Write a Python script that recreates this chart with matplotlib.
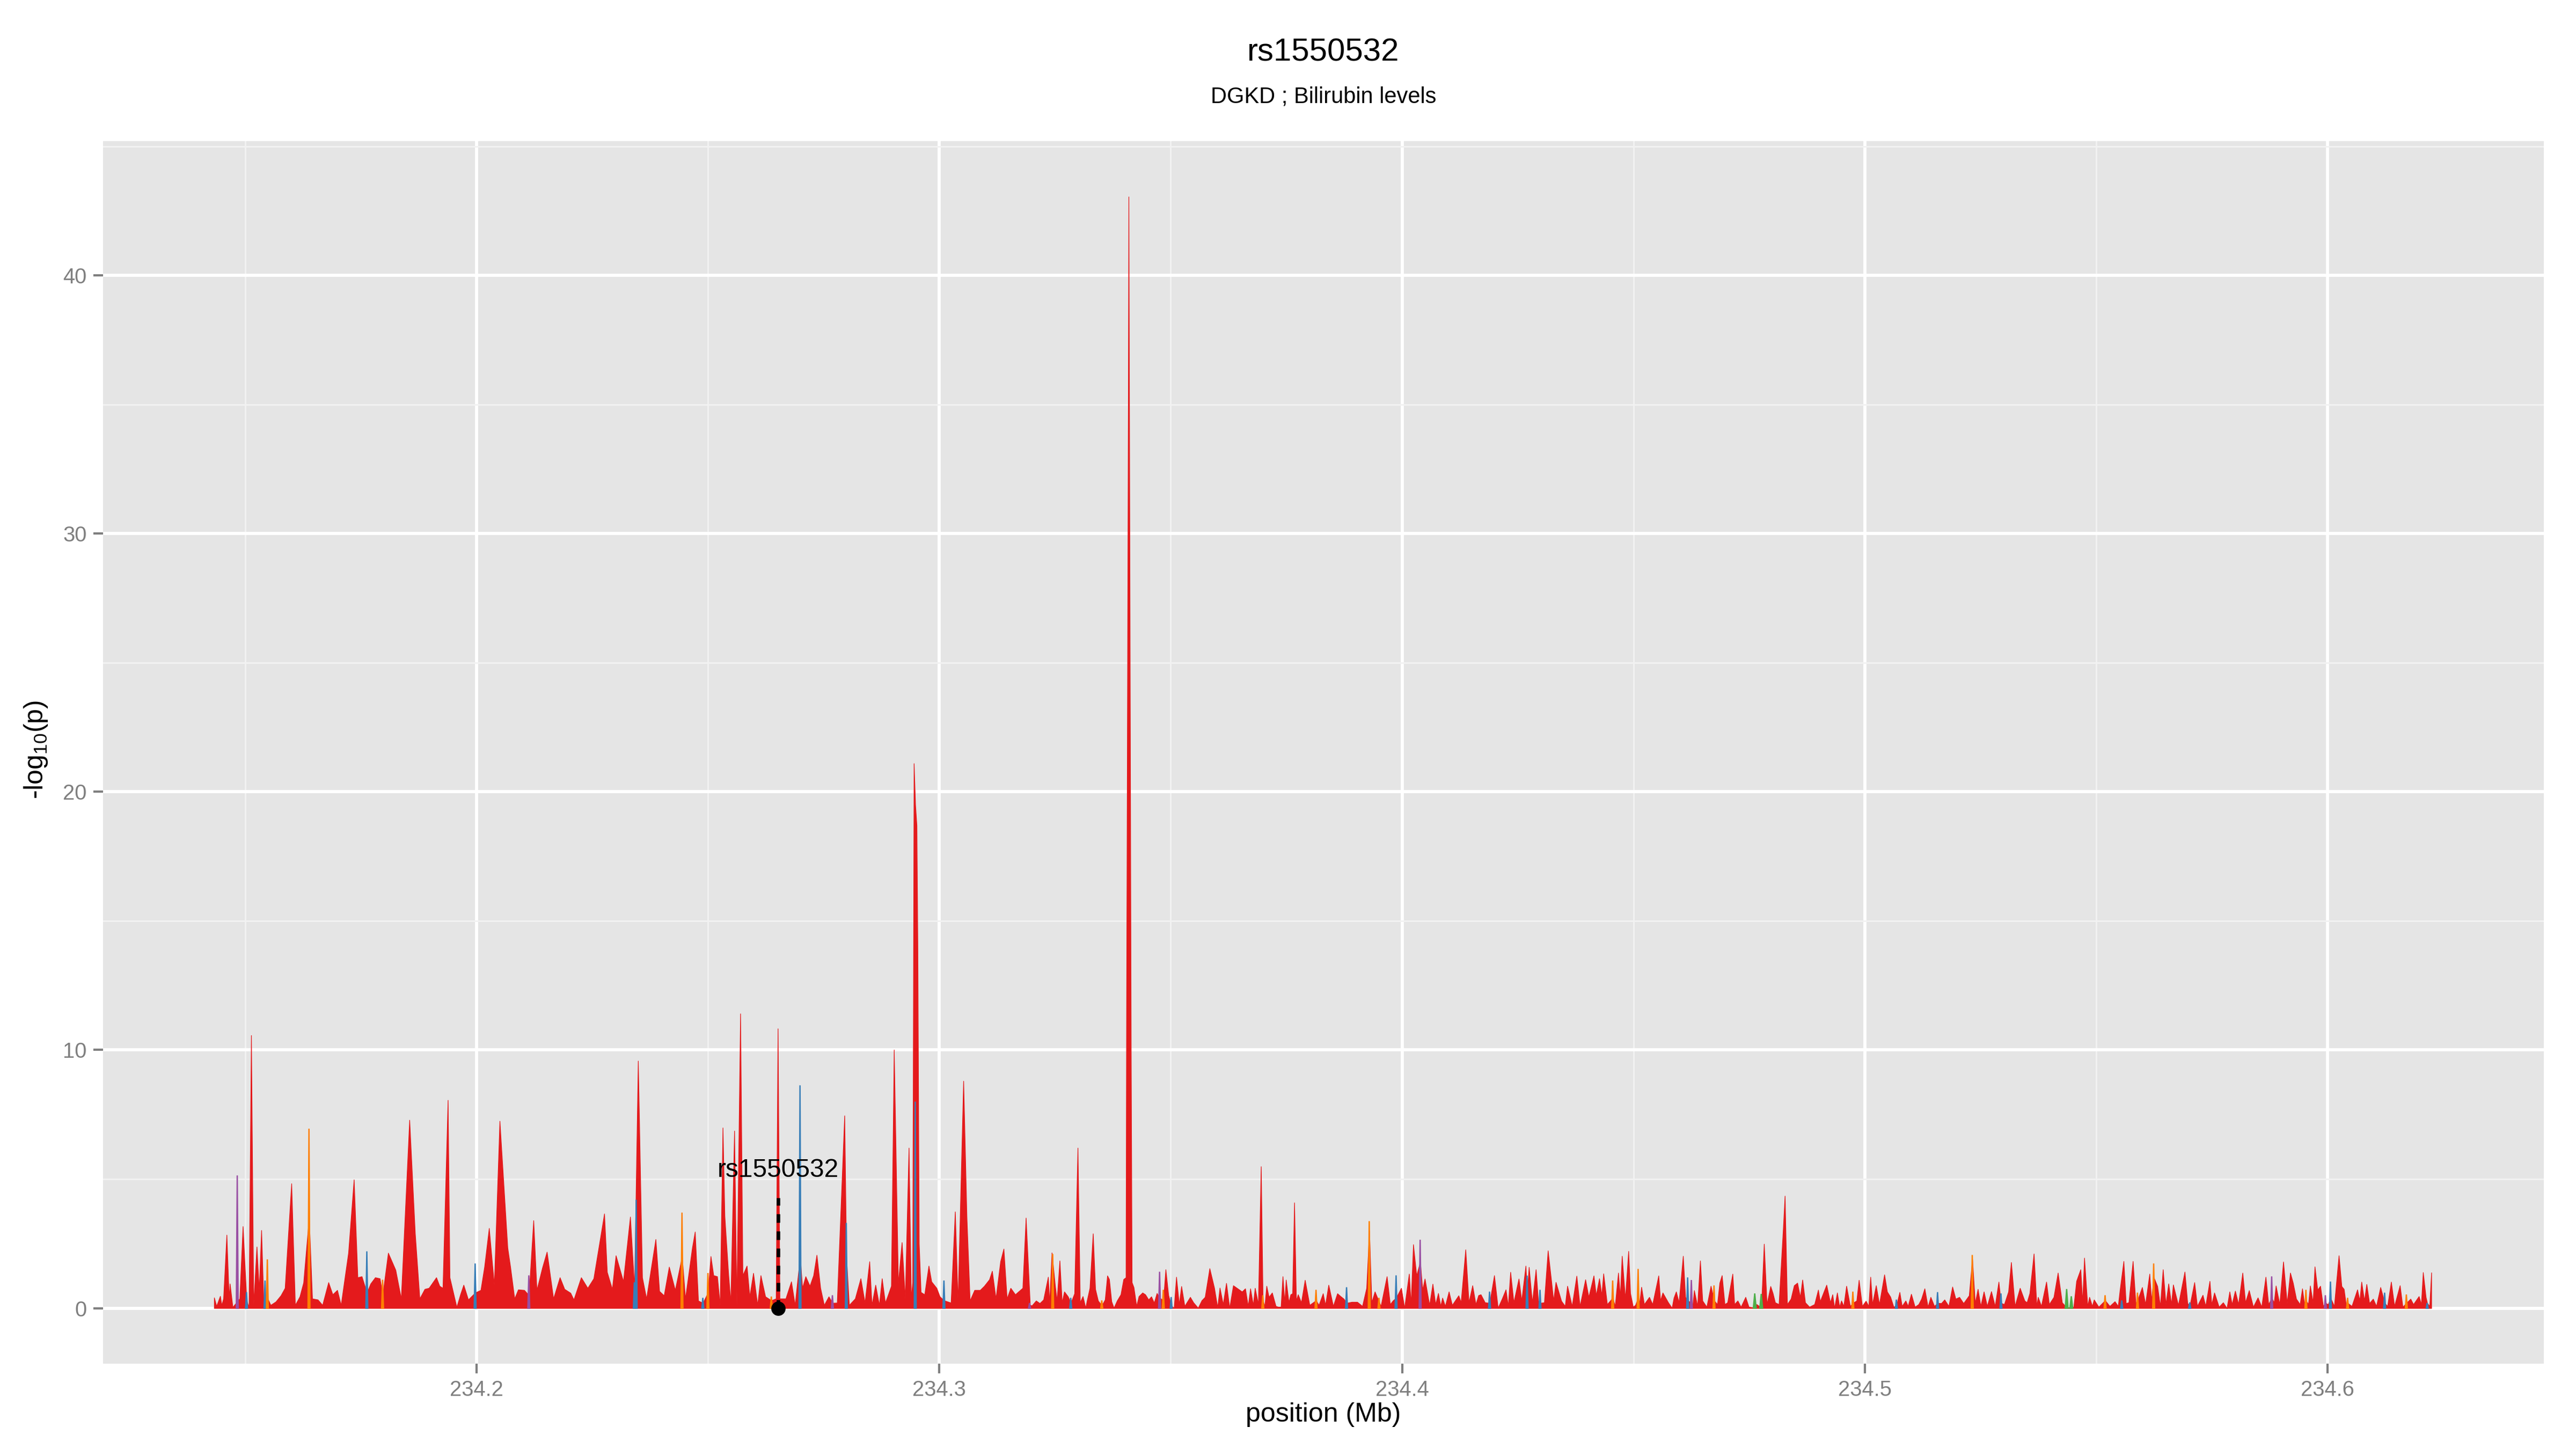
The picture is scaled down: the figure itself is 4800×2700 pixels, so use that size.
import matplotlib
matplotlib.use("Agg")
import matplotlib.pyplot as plt
import numpy as np

plt.rcParams['font.family'] = ['Liberation Sans', 'DejaVu Sans']
plt.rcParams['mathtext.default'] = 'regular'

# --- data (position in Mb, -log10 p) ---
red_pos = [
    234.1433, 234.1438, 234.1446, 234.1449, 234.1453, 234.1460, 234.1465, 234.1467, 234.1473, 234.1488,
    234.1495, 234.1503, 234.1508, 234.1513, 234.1518, 234.1525, 234.1530, 234.1535, 234.1540, 234.1548,
    234.1555, 234.1566, 234.1577, 234.1586, 234.1600, 234.1608, 234.1618, 234.1626, 234.1638, 234.1645,
    234.1657, 234.1667, 234.1680, 234.1689, 234.1699, 234.1707, 234.1723, 234.1735, 234.1743, 234.1752,
    234.1763, 234.1771, 234.1781, 234.1791, 234.1797, 234.1809, 234.1825, 234.1837, 234.1855, 234.1867,
    234.1877, 234.1888, 234.1897, 234.1913, 234.1920, 234.1927, 234.1938, 234.1942, 234.1957, 234.1965,
    234.1972, 234.1982, 234.1997, 234.2009, 234.2017, 234.2027, 234.2038, 234.2050, 234.2067, 234.2073,
    234.2082, 234.2090, 234.2103, 234.2113, 234.2123, 234.2130, 234.2142, 234.2152, 234.2166, 234.2180,
    234.2190, 234.2203, 234.2210, 234.2226, 234.2240, 234.2253, 234.2270, 234.2276, 234.2282, 234.2293,
    234.2301, 234.2317, 234.2332, 234.2341, 234.2349, 234.2358, 234.2367, 234.2387, 234.2395, 234.2405,
    234.2416, 234.2429, 234.2444, 234.2451, 234.2466, 234.2472, 234.2479, 234.2489, 234.2500, 234.2506,
    234.2512, 234.2520, 234.2526, 234.2532, 234.2536, 234.2544, 234.2549, 234.2557, 234.2562, 234.2570,
    234.2575, 234.2584, 234.2590, 234.2598, 234.2607, 234.2614, 234.2624, 234.2637, 234.2647, 234.2651,
    234.2655, 234.2668, 234.2680, 234.2688, 234.2699, 234.2704, 234.2711, 234.2720, 234.2728, 234.2735,
    234.2743, 234.2751, 234.2761, 234.2769, 234.2779, 234.2795, 234.2799, 234.2805, 234.2818, 234.2830,
    234.2839, 234.2849, 234.2854, 234.2862, 234.2870, 234.2876, 234.2883, 234.2888, 234.2896, 234.2902,
    234.2911, 234.2919, 234.2926, 234.2934, 234.2939, 234.2942, 234.2945, 234.2948, 234.2951, 234.2953,
    234.2956, 234.2960, 234.2968, 234.2977, 234.2983, 234.2994, 234.3001, 234.3010, 234.3025, 234.3034,
    234.3040, 234.3052, 234.3059, 234.3066, 234.3076, 234.3088, 234.3097, 234.3108, 234.3114, 234.3122,
    234.3132, 234.3139, 234.3146, 234.3154, 234.3164, 234.3180, 234.3187, 234.3196, 234.3200, 234.3209,
    234.3217, 234.3225, 234.3235, 234.3238, 234.3243, 234.3250, 234.3254, 234.3260, 234.3265, 234.3270,
    234.3278, 234.3284, 234.3292, 234.3299, 234.3304, 234.3310, 234.3316, 234.3319, 234.3325, 234.3332,
    234.3337, 234.3343, 234.3351, 234.3358, 234.3363, 234.3367, 234.3372, 234.3377, 234.3384, 234.3392,
    234.3398, 234.3403, 234.3404, 234.3408, 234.3409, 234.3411, 234.3414, 234.3416, 234.3420, 234.3426,
    234.3431, 234.3439, 234.3445, 234.3452, 234.3458, 234.3464, 234.3470, 234.3476, 234.3484, 234.3489,
    234.3495, 234.3501, 234.3507, 234.3512, 234.3518, 234.3523, 234.3530, 234.3542, 234.3549, 234.3559,
    234.3567, 234.3574, 234.3584, 234.3594, 234.3601, 234.3606, 234.3613, 234.3620, 234.3627, 234.3635,
    234.3654, 234.3661, 234.3667, 234.3672, 234.3678, 234.3682, 234.3689, 234.3695, 234.3699, 234.3703,
    234.3707, 234.3712, 234.3719, 234.3727, 234.3732, 234.3738, 234.3742, 234.3746, 234.3749, 234.3755,
    234.3759, 234.3763, 234.3767, 234.3771, 234.3775, 234.3782, 234.3790, 234.3800, 234.3814, 234.3820,
    234.3829, 234.3834, 234.3841, 234.3851, 234.3860, 234.3867, 234.3874, 234.3880, 234.3891, 234.3903,
    234.3914, 234.3923, 234.3929, 234.3934, 234.3941, 234.3954, 234.3967, 234.3974, 234.3980, 234.3987,
    234.3998, 234.4005, 234.4015, 234.4019, 234.4024, 234.4031, 234.4039, 234.4044, 234.4049, 234.4059,
    234.4066, 234.4072, 234.4078, 234.4083, 234.4087, 234.4093, 234.4101, 234.4108, 234.4122, 234.4127,
    234.4137, 234.4144, 234.4152, 234.4159, 234.4165, 234.4170, 234.4179, 234.4189, 234.4199, 234.4207,
    234.4216, 234.4224, 234.4229, 234.4234, 234.4241, 234.4252, 234.4258, 234.4267, 234.4270, 234.4274,
    234.4281, 234.4289, 234.4294, 234.4298, 234.4307, 234.4315, 234.4322, 234.4327, 234.4332, 234.4344,
    234.4352, 234.4357, 234.4367, 234.4377, 234.4384, 234.4396, 234.4403, 234.4414, 234.4419, 234.4426,
    234.4431, 234.4435, 234.4443, 234.4455, 234.4460, 234.4467, 234.4471, 234.4475, 234.4482, 234.4489,
    234.4493, 234.4499, 234.4504, 234.4510, 234.4513, 234.4517, 234.4523, 234.4534, 234.4541, 234.4554,
    234.4558, 234.4563, 234.4575, 234.4583, 234.4587, 234.4592, 234.4598, 234.4607, 234.4612, 234.4617,
    234.4625, 234.4628, 234.4631, 234.4638, 234.4644, 234.4649, 234.4658, 234.4667, 234.4674, 234.4681,
    234.4686, 234.4691, 234.4697, 234.4703, 234.4714, 234.4718, 234.4725, 234.4732, 234.4742, 234.4749,
    234.4762, 234.4766, 234.4776, 234.4782, 234.4788, 234.4796, 234.4801, 234.4806, 234.4814, 234.4823,
    234.4827, 234.4832, 234.4840, 234.4847, 234.4854, 234.4860, 234.4865, 234.4871, 234.4880, 234.4891,
    234.4899, 234.4903, 234.4917, 234.4925, 234.4930, 234.4934, 234.4940, 234.4945, 234.4949, 234.4954,
    234.4960, 234.4968, 234.4974, 234.4982, 234.4987, 234.4994, 234.5002, 234.5008, 234.5012, 234.5016,
    234.5024, 234.5031, 234.5042, 234.5048, 234.5055, 234.5062, 234.5068, 234.5075, 234.5080, 234.5088,
    234.5093, 234.5100, 234.5108, 234.5116, 234.5122, 234.5129, 234.5136, 234.5142, 234.5150, 234.5157,
    234.5165, 234.5172, 234.5181, 234.5189, 234.5196, 234.5204, 234.5213, 234.5225, 234.5232, 234.5238,
    234.5244, 234.5250, 234.5257, 234.5264, 234.5273, 234.5281, 234.5289, 234.5294, 234.5301, 234.5310,
    234.5316, 234.5324, 234.5335, 234.5345, 234.5350, 234.5356, 234.5365, 234.5371, 234.5374, 234.5381,
    234.5392, 234.5398, 234.5408, 234.5417, 234.5426, 234.5436, 234.5440, 234.5446, 234.5451, 234.5457,
    234.5466, 234.5470, 234.5474, 234.5481, 234.5485, 234.5491, 234.5495, 234.5505, 234.5519, 234.5529,
    234.5540, 234.5547, 234.5551, 234.5559, 234.5564, 234.5570, 234.5579, 234.5585, 234.5589, 234.5599,
    234.5606, 234.5615, 234.5619, 234.5624, 234.5632, 234.5638, 234.5644, 234.5650, 234.5656, 234.5662,
    234.5666, 234.5677, 234.5691, 234.5697, 234.5702, 234.5712, 234.5718, 234.5730, 234.5736, 234.5745,
    234.5749, 234.5755, 234.5765, 234.5774, 234.5782, 234.5788, 234.5793, 234.5800, 234.5807, 234.5816,
    234.5822, 234.5830, 234.5839, 234.5849, 234.5857, 234.5866, 234.5872, 234.5879, 234.5884, 234.5888,
    234.5896, 234.5904, 234.5912, 234.5919, 234.5925, 234.5932, 234.5940, 234.5945, 234.5949, 234.5953,
    234.5958, 234.5962, 234.5968, 234.5972, 234.5978, 234.5984, 234.5990, 234.5995, 234.6001, 234.6006,
    234.6014, 234.6024, 234.6030, 234.6035, 234.6040, 234.6043, 234.6052, 234.6064, 234.6069, 234.6073,
    234.6079, 234.6084, 234.6090, 234.6098, 234.6105, 234.6114, 234.6123, 234.6129, 234.6137, 234.6144,
    234.6156, 234.6162, 234.6170, 234.6179, 234.6185, 234.6197, 234.6202, 234.6206, 234.6212, 234.6215,
    234.6220, 234.6224,
]
red_val = [
    0.41, 0.08, 0.47, 0.12, 0.37, 2.84, 0.37, 0.95, 0.04, 0.37,
    3.17, 0.30, 0.04, 10.57, 0.12, 2.38, 0.70, 3.02, 0.12, 0.40,
    0.12, 0.25, 0.49, 0.78, 4.83, 0.12, 0.45, 0.99, 3.50, 0.37,
    0.33, 0.12, 1.00, 0.53, 0.70, 0.12, 2.14, 4.98, 1.19, 1.23,
    0.60, 0.95, 1.19, 1.15, 0.50, 2.14, 1.48, 0.37, 7.29, 2.92,
    0.37, 0.74, 0.78, 1.19, 0.86, 0.78, 8.06, 1.19, 0.04, 0.53,
    0.90, 0.33, 0.60, 0.70, 1.60, 3.10, 0.90, 7.25, 2.34, 1.60,
    0.37, 0.72, 0.70, 0.50, 3.40, 0.70, 1.56, 2.18, 0.37, 1.19,
    0.74, 0.59, 0.33, 1.19, 0.78, 1.15, 3.00, 3.66, 1.40, 0.74,
    2.04, 1.04, 3.54, 0.80, 9.58, 1.19, 0.37, 2.67, 0.66, 0.49,
    1.60, 0.70, 2.00, 0.37, 2.34, 2.96, 0.29, 0.20, 0.60, 2.01,
    1.27, 1.23, 0.12, 6.99, 3.58, 1.36, 0.21, 6.87, 0.12, 11.41,
    1.27, 1.64, 0.45, 1.36, 0.12, 1.27, 0.45, 0.30, 0.37, 10.83,
    0.37, 0.37, 1.03, 0.12, 2.00, 0.78, 1.23, 0.86, 1.27, 2.06,
    0.78, 0.12, 0.45, 0.20, 0.21, 7.46, 2.00, 0.12, 0.37, 1.15,
    0.21, 1.81, 0.12, 0.90, 0.12, 1.15, 0.21, 0.45, 0.86, 10.01,
    0.95, 2.55, 0.37, 6.21, 0.37, 1.00, 21.10, 19.50, 18.70, 14.00,
    2.50, 0.62, 0.53, 1.64, 1.03, 0.78, 0.45, 0.30, 0.21, 3.74,
    0.21, 8.80, 3.58, 0.29, 0.70, 0.70, 0.86, 1.11, 1.44, 0.37,
    1.81, 2.30, 0.37, 0.78, 0.53, 0.78, 3.50, 0.12, 0.10, 0.29,
    0.19, 0.33, 1.21, 0.19, 2.15, 0.89, 0.29, 1.84, 0.22, 0.64,
    0.45, 0.20, 0.57, 6.21, 0.22, 0.46, 0.01, 0.29, 0.78, 2.89,
    0.74, 0.29, 0.10, 0.33, 1.26, 1.12, 0.26, 0.01, 0.29, 0.53,
    1.12, 1.19, 10.00, 35.00, 43.05, 30.00, 10.00, 1.00, 0.81, 0.08,
    0.46, 0.60, 0.53, 0.33, 0.45, 0.21, 0.58, 0.40, 0.30, 1.50,
    0.50, 0.10, 0.01, 1.21, 0.15, 0.85, 0.08, 0.43, 0.22, 0.01,
    0.30, 0.43, 1.54, 0.79, 0.03, 0.79, 0.15, 0.97, 0.01, 0.88,
    0.64, 0.76, 0.08, 0.76, 0.12, 0.78, 0.15, 5.49, 0.30, 0.08,
    0.86, 0.43, 0.60, 0.08, 0.05, 0.05, 1.23, 0.22, 1.10, 0.22,
    0.53, 0.57, 4.09, 0.29, 0.53, 0.22, 1.09, 0.12, 0.30, 0.12,
    0.57, 0.12, 0.90, 0.08, 0.57, 0.46, 0.36, 0.20, 0.24, 0.24,
    0.08, 0.78, 3.00, 0.22, 0.64, 0.08, 1.23, 0.15, 0.29, 0.40,
    0.78, 0.01, 1.33, 0.15, 2.47, 1.26, 1.80, 0.71, 1.14, 0.12,
    0.94, 0.15, 0.58, 0.08, 0.40, 0.08, 0.64, 0.12, 0.49, 0.22,
    2.27, 0.22, 0.88, 0.15, 0.50, 0.53, 0.22, 0.20, 1.27, 0.01,
    0.37, 0.72, 0.08, 1.40, 0.22, 1.14, 0.29, 1.64, 0.60, 1.59,
    0.22, 1.50, 0.29, 0.20, 0.22, 2.23, 1.11, 0.29, 1.01, 0.28,
    0.08, 0.86, 0.08, 1.25, 0.08, 1.11, 0.43, 1.26, 0.50, 1.15,
    0.50, 1.34, 0.15, 0.40, 0.08, 1.37, 0.43, 2.02, 0.36, 2.21,
    0.58, 0.05, 0.12, 0.40, 0.22, 0.82, 0.15, 0.43, 0.15, 1.26,
    0.29, 0.60, 0.22, 0.01, 0.40, 0.64, 0.22, 2.02, 0.43, 0.30,
    0.20, 0.15, 0.69, 0.08, 1.84, 0.29, 0.05, 0.86, 0.30, 0.15,
    0.98, 1.27, 0.15, 0.22, 1.33, 0.15, 0.29, 0.05, 0.43, 0.05,
    0.02, 0.15, 0.02, 2.49, 0.15, 0.85, 0.58, 0.22, 0.15, 2.99,
    4.35, 0.15, 0.36, 0.88, 0.98, 0.43, 1.10, 0.22, 0.05, 0.15,
    0.71, 0.26, 0.90, 0.22, 0.53, 0.01, 0.60, 0.05, 0.29, 0.08,
    0.86, 0.08, 0.20, 0.29, 1.09, 0.08, 0.28, 0.08, 1.21, 0.15,
    0.88, 0.15, 1.30, 0.64, 0.44, 0.05, 0.10, 0.62, 0.08, 0.29,
    0.08, 0.55, 0.05, 0.15, 0.36, 0.76, 0.05, 0.43, 0.08, 0.20,
    0.19, 0.33, 0.08, 0.83, 0.36, 0.43, 0.19, 0.49, 1.90, 0.19,
    0.74, 0.08, 0.64, 0.08, 0.65, 0.08, 1.02, 0.20, 0.15, 0.64,
    1.78, 0.08, 0.78, 0.29, 0.22, 0.58, 2.11, 0.08, 0.43, 0.08,
    1.02, 0.15, 0.43, 1.37, 0.22, 0.02, 0.03, 0.02, 0.05, 1.05,
    1.50, 0.22, 1.95, 0.08, 0.43, 0.08, 0.33, 0.05, 0.30, 0.08,
    0.26, 0.08, 0.71, 1.82, 0.19, 0.22, 1.82, 0.19, 0.30, 0.81,
    0.15, 1.33, 0.29, 1.20, 0.85, 0.08, 1.50, 0.15, 0.95, 0.15,
    0.91, 0.12, 1.41, 0.19, 0.10, 1.00, 0.08, 0.51, 0.08, 1.05,
    0.15, 0.60, 0.05, 0.22, 0.00, 0.64, 0.15, 0.67, 0.15, 1.37,
    0.22, 0.69, 0.05, 0.41, 0.05, 1.21, 0.15, 0.40, 0.22, 0.87,
    0.15, 1.80, 0.19, 1.37, 0.98, 0.36, 0.15, 0.76, 0.22, 0.30,
    0.15, 0.87, 0.22, 1.61, 0.71, 0.86, 0.08, 0.20, 0.15, 0.40,
    0.08, 2.04, 0.85, 0.74, 0.08, 0.20, 0.08, 0.72, 0.29, 1.02,
    0.29, 0.93, 0.19, 0.36, 0.08, 0.81, 0.20, 0.08, 1.02, 0.08,
    0.88, 0.05, 0.20, 0.36, 0.15, 0.46, 0.15, 1.39, 0.43, 0.20,
    0.08, 1.38,
]

blue_pos = [234.1503, 234.1543, 234.1763, 234.1997, 234.2341, 234.2345, 234.2489, 234.2699, 234.2799,
            234.2948, 234.3010, 234.3284, 234.3501, 234.3880, 234.3987, 234.4189, 234.4270, 234.4298,
            234.4617, 234.5068, 234.5157, 234.5294, 234.5555, 234.5702, 234.6006, 234.6123, 234.6215]
blue_val = [0.62, 1.07, 2.20, 1.73, 1.00, 4.20, 0.40, 8.63, 3.30,
            8.00, 1.07, 0.40, 0.43, 0.81, 1.27, 0.64, 1.26, 0.71,
            1.19, 0.33, 0.62, 0.57, 0.30, 0.22, 1.03, 0.60, 0.20]

orange_pos = [234.1548, 234.1638, 234.1797, 234.2444, 234.2500, 234.2637, 234.3245, 234.3351,
              234.3484, 234.3699, 234.3814, 234.3929, 234.3950, 234.4455, 234.4510, 234.4674,
              234.4974, 234.5232, 234.5519, 234.5589, 234.5624, 234.5953, 234.6043, 234.6170]
orange_val = [1.89, 6.95, 1.10, 3.70, 1.36, 0.45, 2.10, 0.30,
              0.71, 0.50, 0.71, 3.37, 0.40, 1.07, 1.52, 0.88,
              0.64, 2.06, 0.50, 0.60, 1.73, 0.71, 0.40, 0.53]

purple_pos = [234.1483, 234.2113, 234.2769, 234.3195, 234.3476, 234.4039, 234.4625, 234.5879, 234.5995]
purple_val = [5.14, 1.27, 0.50, 0.20, 1.41, 2.65, 1.09, 1.23, 0.50]

green_pos = [234.4762, 234.4776, 234.5436, 234.5446]
green_val = [0.57, 0.55, 0.74, 0.46]

snp_label = 'rs1550532'
snp_pos = 234.2652
snp_top = 4.28
snp_text_y = 5.35

x_ticks = [234.2, 234.3, 234.4, 234.5, 234.6]
y_ticks = [0, 10, 20, 30, 40]

# --- figure ---
fig = plt.figure(figsize=(16, 9), dpi=300)
ax = fig.add_axes([0.04, 0.0589, 0.9475, 0.8437])
ax.set_facecolor('#E5E5E5')

ax.fill_between(red_pos, red_val, 0, color='#E41A1C', linewidth=0.3, edgecolor='#E41A1C', zorder=2)


def spikes(pos, val, color, half):
    for p, v in zip(pos, val):
        ax.fill([p - half, p, p + half], [0, v, 0], facecolor=color, edgecolor=color,
                linewidth=0.6, zorder=3)


spikes(blue_pos, blue_val, '#377EB8', 0.0002)
spikes(orange_pos, orange_val, '#FF7F00', 0.0002)
spikes(purple_pos, purple_val, '#984EA3', 0.0002)
spikes(green_pos, green_val, '#4DAF4A', 0.0003)

# annotated SNP
ax.plot([snp_pos, snp_pos], [0, snp_top], color='black', linewidth=1.6,
        linestyle=(0, (2.4, 2.4)), zorder=4)
ax.plot([snp_pos], [0], 'o', color='black', markersize=5.4, zorder=5)
ax.text(snp_pos, snp_text_y, snp_label, ha='center', va='center', fontsize=11.5, zorder=5)

ax.set_xlim(234.1193, 234.6467)
ax.set_ylim(-2.15, 45.2)
ax.set_xticks(x_ticks)
ax.set_xticklabels([f'{t:.1f}' for t in x_ticks])
ax.set_yticks(y_ticks)
ax.set_xticks([234.15, 234.25, 234.35, 234.45, 234.55], minor=True)
ax.set_yticks([5, 15, 25, 35, 45], minor=True)

ax.grid(which='major', color='white', linewidth=1.4)
ax.grid(which='minor', color='#F2F2F2', linewidth=0.7)
ax.set_axisbelow(True)
for s in ax.spines.values():
    s.set_visible(False)
ax.tick_params(which='major', length=4.25, width=1.0, color='#7F7F7F',
               labelcolor='#7F7F7F', labelsize=9.6, pad=3)
ax.tick_params(which='minor', length=0)

fig.text(0.51375, 0.9637, 'rs1550532', ha='center', va='center', fontsize=14.4)
fig.text(0.51375, 0.933, 'DGKD ; Bilirubin levels', ha='center', va='center', fontsize=10)
fig.text(0.51375, 0.0237, 'position (Mb)', ha='center', va='center', fontsize=12)
fig.text(0.014, 0.4825, '-log$_{10}$(p)', ha='center', va='center', fontsize=12, rotation=90)

fig.savefig('out.png', dpi=300, facecolor='white')
